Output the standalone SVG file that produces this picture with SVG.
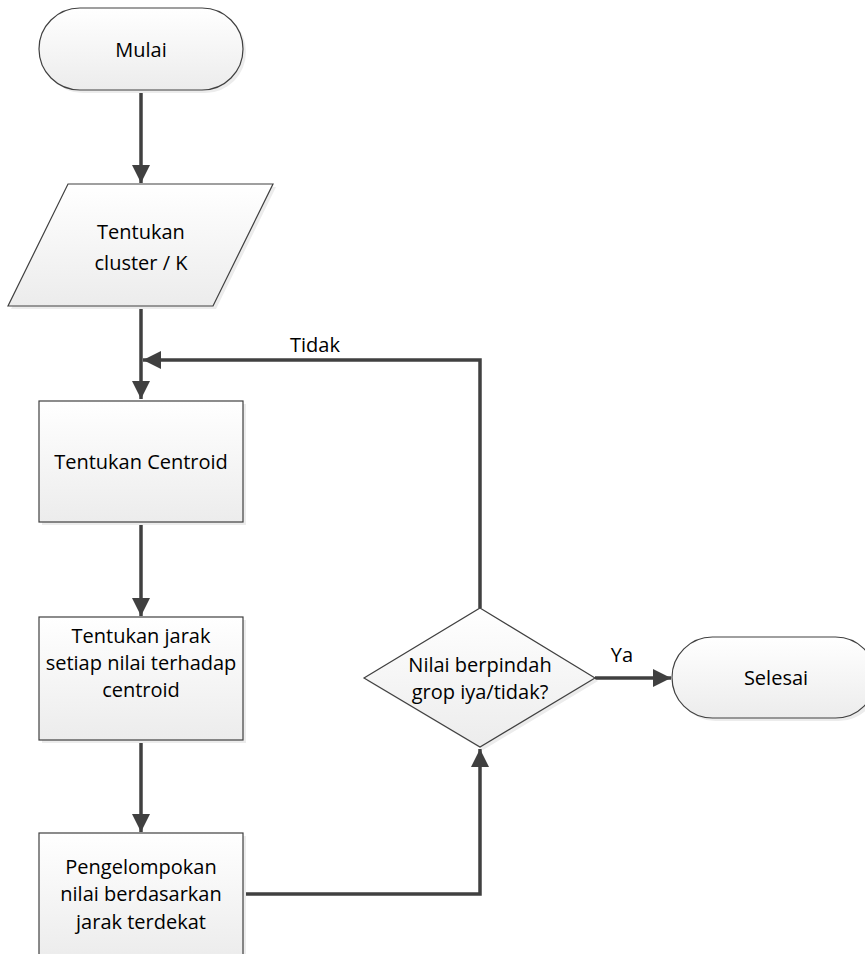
<svg xmlns="http://www.w3.org/2000/svg" width="865" height="954" viewBox="0 0 865 954">
<style>
.shape{fill:url(#g);stroke:#404040;stroke-width:1.2}
.shadow{fill:#ececec;stroke:none}
.t{font-family:"Open Sans","Liberation Sans",Arial,sans-serif;font-size:20px;fill:#000;text-anchor:middle}
.c{fill:none;stroke:#404040;stroke-width:3.5}
</style>
<defs>
<linearGradient id="g" x1="0" y1="0" x2="0" y2="1">
<stop offset="0" stop-color="#ffffff"/>
<stop offset="1" stop-color="#ececec"/>
</linearGradient>
<marker id="ah" markerUnits="userSpaceOnUse" markerWidth="20" markerHeight="20" viewBox="0 0 20 20" refX="18" refY="10" orient="auto">
<path d="M0,1 L18,10 L0,19 Z" fill="#404040"/>
</marker>
</defs>
<rect width="865" height="954" fill="#ffffff"/>
<g id="connectors">
<path class="c" d="M141,90 V183" marker-end="url(#ah)"/>
<path class="c" d="M141,306 V399" marker-end="url(#ah)"/>
<path class="c" d="M480,608 V360 H143" marker-end="url(#ah)"/>
<path class="c" d="M141,522 V616" marker-end="url(#ah)"/>
<path class="c" d="M141,740 V832" marker-end="url(#ah)"/>
<path class="c" d="M243,894 H480 V749" marker-end="url(#ah)"/>
<path class="c" d="M595,678 H671" marker-end="url(#ah)"/>
<text class="t" x="315" y="352">Tidak</text>
<text class="t" x="622" y="662">Ya</text>
</g>
<g id="mulai">
<rect class="shadow" x="42" y="11" width="204" height="82" rx="41"/>
<rect class="shape" x="39" y="8" width="204" height="82" rx="41"/>
<text class="t" x="141" y="57">Mulai</text>
</g>
<g id="tentukan-cluster">
<polygon class="shadow" points="71,187 276,187 216,309 11,309"/>
<polygon class="shape" points="68,184 273,184 213,306 8,306"/>
<text class="t" x="141" y="239">Tentukan</text>
<text class="t" x="141" y="270">cluster / K</text>
</g>
<g id="tentukan-centroid">
<rect class="shadow" x="42" y="404" width="204" height="121"/>
<rect class="shape" x="39" y="401" width="204" height="121"/>
<text class="t" x="141" y="469">Tentukan Centroid</text>
</g>
<g id="tentukan-jarak">
<rect class="shadow" x="42" y="620" width="204" height="123"/>
<rect class="shape" x="39" y="617" width="204" height="123"/>
<text class="t" x="141" y="643">Tentukan jarak</text>
<text class="t" x="141" y="670">setiap nilai terhadap</text>
<text class="t" x="141" y="697">centroid</text>
</g>
<g id="pengelompokan">
<rect class="shadow" x="42" y="836" width="204" height="125"/>
<rect class="shape" x="39" y="833" width="204" height="125"/>
<text class="t" x="141" y="874">Pengelompokan</text>
<text class="t" x="141" y="901">nilai berdasarkan</text>
<text class="t" x="141" y="929">jarak terdekat</text>
</g>
<g id="keputusan">
<polygon class="shadow" points="483,611 598,681 483,750 367,681"/>
<polygon class="shape" points="480,608 595,678 480,747 364,678"/>
<text class="t" x="480" y="672">Nilai berpindah</text>
<text class="t" x="480" y="699">grop iya/tidak?</text>
</g>
<g id="selesai">
<rect class="shadow" x="675" y="640" width="204" height="81" rx="40.5"/>
<rect class="shape" x="672" y="637" width="204" height="81" rx="40.5"/>
<text class="t" x="776" y="685">Selesai</text>
</g>
</svg>
